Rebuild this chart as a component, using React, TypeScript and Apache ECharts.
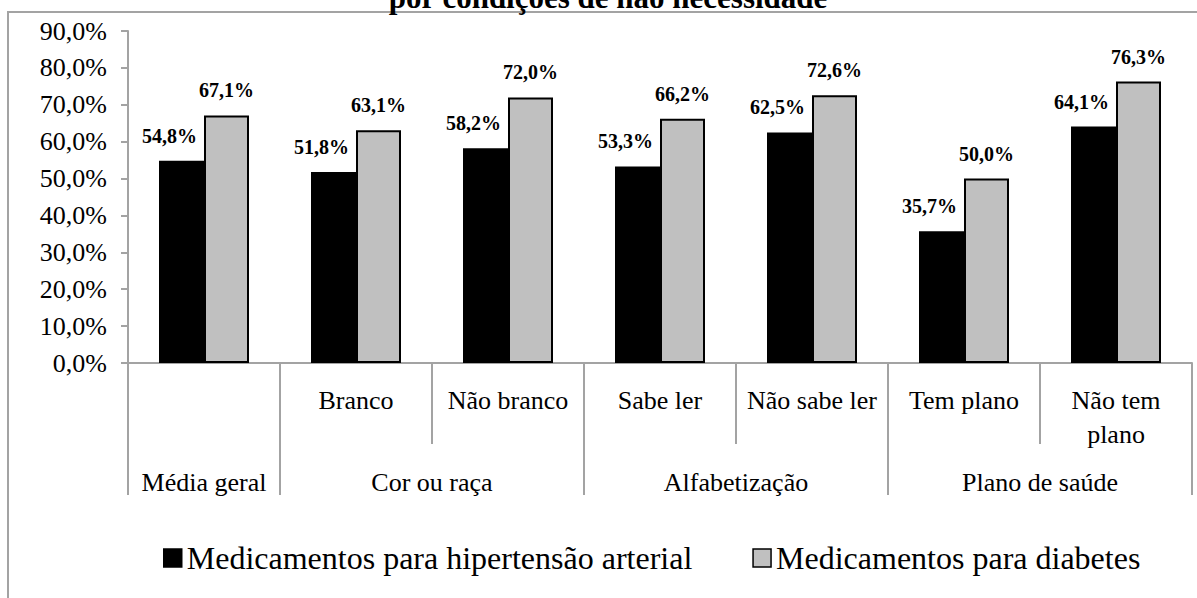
import React, { useEffect, useRef } from "react";
import * as echarts from "echarts";

const categories = ["Média geral", "Branco", "Não branco", "Sabe ler", "Não sabe ler", "Tem plano", "Não tem plano"];
const level1Labels = ["", "Branco", "Não branco", "Sabe ler", "Não sabe ler", "Tem plano", "Não tem\nplano"];
const groupLabels = ["Média geral", "Cor ou raça", "Alfabetização", "Plano de saúde"];
const groupCenters = [0.5, 2, 4, 6];
const groupBounds = [0, 1, 3, 5, 7];
const innerBounds = [2, 4, 6];
const hipertensao = [54.8, 51.8, 58.2, 53.3, 62.5, 35.7, 64.1];
const diabetes = [67.1, 63.1, 72.0, 66.2, 72.6, 50.0, 76.3];
const seriesNames = ["Medicamentos para hipertensão arterial", "Medicamentos para diabetes"];
const titleText = "por condições de não necessidade";

const FONT = "Liberation Serif, Times New Roman, DejaVu Serif";
const GRAY_LINE = "#a3a3a3";
const fmt = (v: number) => v.toFixed(1).replace(".", ",") + "%";

export default function App() {
  const ref = useRef<HTMLDivElement>(null);
  useEffect(() => {
    if (!ref.current) return;
    const chart = echarts.init(ref.current, null, { renderer: "svg" });
    const labelStyle = {
      show: true,
      position: "top" as const,
      distance: 15,
      fontFamily: FONT,
      fontWeight: "bold" as const,
      fontSize: 20,
      color: "#000",
      formatter: (p: any) => fmt(p.value),
    };
    chart.setOption({
      animation: false,
      backgroundColor: "#fff",
      textStyle: { fontFamily: FONT },
      grid: { left: 128, right: 5, top: 31, bottom: 235, containLabel: false },
      graphic: [
        {
          type: "rect",
          shape: { x: 8, y: 12, width: 1300, height: 800 },
          style: { fill: "none", stroke: GRAY_LINE, lineWidth: 2 },
          silent: true,
        },
        {
          type: "text",
          x: 608,
          y: 13,
          style: {
            text: titleText,
            fontFamily: FONT,
            fontWeight: "bold",
            fontSize: 31,
            fill: "#000",
            align: "center",
            verticalAlign: "bottom",
          },
        },
      ],
      legend: {
        data: seriesNames,
        left: 163,
        top: 542,
        padding: 0,
        icon: "rect",
        itemWidth: 18,
        itemHeight: 18,
        itemGap: 60,
        itemStyle: { borderColor: "#000", borderWidth: 1.5 },
        textStyle: { fontFamily: FONT, fontSize: 32, color: "#000" },
      },
      xAxis: [
        {
          type: "category",
          data: categories,
          boundaryGap: true,
          axisLine: { show: true, lineStyle: { color: GRAY_LINE, width: 2 } },
          axisTick: { show: true, interval: 0, length: 81, lineStyle: { color: GRAY_LINE, width: 2 } },
          axisLabel: {
            interval: 0,
            margin: 20,
            fontFamily: FONT,
            fontSize: 26,
            lineHeight: 34,
            color: "#000",
            formatter: (_v: string, i: number) => level1Labels[i],
          },
        },
        {
          type: "value",
          min: 0,
          max: 7,
          position: "bottom",
          axisLine: { show: false },
          splitLine: { show: false },
          axisTick: {
            show: true,
            customValues: innerBounds,
            length: 81,
            lineStyle: { color: GRAY_LINE, width: 2 },
          },
          axisLabel: { show: false },
        },
        {
          type: "value",
          min: 0,
          max: 7,
          position: "bottom",
          axisLine: { show: false },
          splitLine: { show: false },
          axisTick: {
            show: true,
            customValues: groupBounds,
            length: 132,
            lineStyle: { color: GRAY_LINE, width: 2 },
          },
          axisLabel: {
            show: true,
            customValues: groupCenters,
            margin: 102,
            fontFamily: FONT,
            fontSize: 26,
            lineHeight: 34,
            color: "#000",
            formatter: (v: number) => {
              const i = groupCenters.indexOf(v);
              return i >= 0 ? groupLabels[i] : "";
            },
          },
        },
      ],
      yAxis: {
        type: "value",
        min: 0,
        max: 90,
        interval: 10,
        axisLine: { show: true, lineStyle: { color: GRAY_LINE, width: 2 } },
        axisTick: { show: true, length: 7, lineStyle: { color: GRAY_LINE, width: 2 } },
        splitLine: { show: false },
        axisLabel: {
          margin: 21,
          fontFamily: FONT,
          fontSize: 26,
          color: "#000",
          formatter: (v: number) => fmt(v),
        },
      },
      series: [
        {
          name: seriesNames[0],
          type: "bar",
          xAxisIndex: 0,
          data: hipertensao,
          barWidth: 45,
          barGap: "0%",
          itemStyle: { color: "#000", borderColor: "#000", borderWidth: 1.5 },
          label: { ...labelStyle, offset: [-12, 0] },
        },
        {
          name: seriesNames[1],
          type: "bar",
          xAxisIndex: 0,
          data: diabetes,
          barWidth: 45,
          barGap: "0%",
          itemStyle: { color: "#c0c0c0", borderColor: "#000", borderWidth: 2 },
          label: { ...labelStyle },
        },
      ],
    });
    return () => chart.dispose();
  }, []);
  return (
    <div
      ref={ref}
      style={{ position: "fixed", left: 0, top: 0, width: 1197, height: 598 }}
    />
  );
}
